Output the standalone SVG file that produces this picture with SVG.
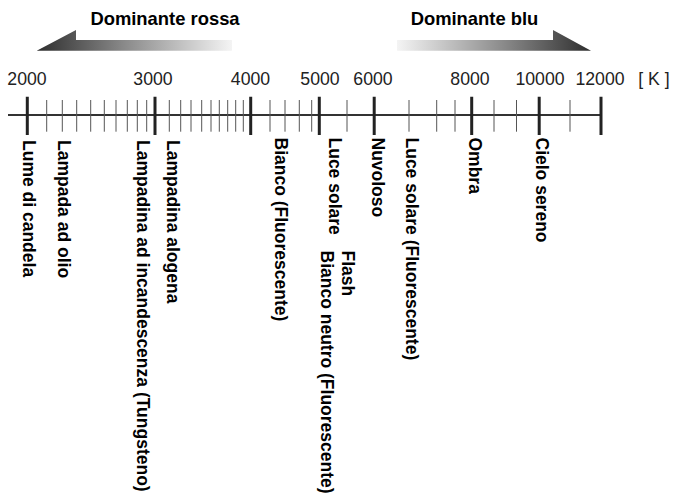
<svg xmlns="http://www.w3.org/2000/svg" width="679" height="497" viewBox="0 0 679 497">
  <defs>
    <linearGradient id="gradRed" x1="0" y1="0" x2="1" y2="0">
      <stop offset="0" stop-color="#2e2e2e"/>
      <stop offset="0.45" stop-color="#8a8a8a"/>
      <stop offset="1" stop-color="#f4f4f4"/>
    </linearGradient>
    <linearGradient id="gradBlue" x1="0" y1="0" x2="1" y2="0">
      <stop offset="0" stop-color="#f4f4f4"/>
      <stop offset="0.55" stop-color="#8a8a8a"/>
      <stop offset="1" stop-color="#2e2e2e"/>
    </linearGradient>
    <style>
      .hdr { font-family: "Liberation Sans", Arial, sans-serif; font-weight: bold; font-size: 18.4px; fill: #000; text-anchor: middle; }
      .num { font-family: "Liberation Sans", Arial, sans-serif; font-size: 17.7px; fill: #222; text-anchor: middle; }
      .lbl { font-family: "Liberation Sans", Arial, sans-serif; font-weight: bold; font-size: 17.5px; fill: #000; }
      .axis { stroke: #333; stroke-width: 2; fill: none; }
      .major { stroke: #222; stroke-width: 3; }
      .minor { stroke: #555; stroke-width: 1; }
    </style>
  </defs>
  <rect width="679" height="497" fill="#fff"/>

  <g id="arrow-rossa">
    <polygon points="36.7,50.7 76,30 76,40 232,40 232,50.7" fill="url(#gradRed)"/>
    <text class="hdr" x="165" y="25.3">Dominante rossa</text>
  </g>
  <g id="arrow-blu">
    <polygon points="397,40 553,40 553,30 591,50.7 397,50.7" fill="url(#gradBlue)"/>
    <text class="hdr" x="474.5" y="25.3">Dominante blu</text>
  </g>

  <g id="scale-numbers">
    <text class="num" x="27" y="85">2000</text>
    <text class="num" x="153" y="85">3000</text>
    <text class="num" x="250.5" y="85">4000</text>
    <text class="num" x="320" y="85">5000</text>
    <text class="num" x="373" y="85">6000</text>
    <text class="num" x="470" y="85">8000</text>
    <text class="num" x="540" y="85">10000</text>
    <text class="num" x="600" y="85">12000</text>
    <text class="num" x="654" y="85" style="text-anchor:middle">[ K ]</text>
  </g>

  <g id="connectors">
    <line class="axis" x1="8" y1="115" x2="601" y2="115"/>
    <g id="minor-ticks">
      <path class="minor" d="M46.7,100V131.7M62.3,100V131.7M76.7,100V131.7M90.7,100V131.7M104.3,100V131.7M116,100V131.7M127.3,100V131.7M137.3,100V131.7M146.7,100V131.7
        M169.3,100V131.7M180.7,100V131.7M191,100V131.7M201.7,100V131.7M211,100V131.7M219.3,100V131.7M227.7,100V131.7M235.7,100V131.7M243.3,100V131.7
        M270,100V131.7M285,100V131.7M299.3,100V131.7M311.7,100V131.7
        M347,100V131.7
        M409,100V131.7M436.7,100V131.7M455,100V131.7
        M494,100V131.7M516.5,100V131.7
        M570,100V131.7"/>
    </g>
    <g id="major-ticks">
      <path class="major" d="M27.3,96.7V135M155,96.7V135M250.7,96.7V135M319.3,96.7V135M374.2,96.7V135M471.7,96.7V135M539.2,96.7V135M601,96.7V135"/>
    </g>
  </g>

  <g id="label-lume"><text class="lbl" transform="translate(23.4,140) rotate(90)">Lume di candela</text></g>
  <g id="label-olio"><text class="lbl" transform="translate(58.1,140) rotate(90)">Lampada ad olio</text></g>
  <g id="label-tungsteno"><text class="lbl" transform="translate(137.4,140) rotate(90)">Lampadina ad incandescenza (Tungsteno)</text></g>
  <g id="label-alogena"><text class="lbl" transform="translate(167.4,140) rotate(90)">Lampadina alogena</text></g>
  <g id="label-bianco-fluo"><text class="lbl" transform="translate(274.7,137.5) rotate(90)">Bianco (Fluorescente)</text></g>
  <g id="label-luce-solare"><text class="lbl" transform="translate(329.1,137.5) rotate(90)">Luce solare</text></g>
  <g id="label-flash"><text class="lbl" transform="translate(342.4,250.5) rotate(90)">Flash</text></g>
  <g id="label-bianco-neutro"><text class="lbl" transform="translate(320.7,250.5) rotate(90)">Bianco neutro (Fluorescente)</text></g>
  <g id="label-nuvoloso"><text class="lbl" transform="translate(372.4,137.5) rotate(90)">Nuvoloso</text></g>
  <g id="label-luce-fluo"><text class="lbl" transform="translate(405.7,137.5) rotate(90)">Luce solare (Fluorescente)</text></g>
  <g id="label-ombra"><text class="lbl" transform="translate(468.8,137.5) rotate(90)">Ombra</text></g>
  <g id="label-cielo"><text class="lbl" transform="translate(535.7,137.5) rotate(90)">Cielo sereno</text></g>
</svg>
